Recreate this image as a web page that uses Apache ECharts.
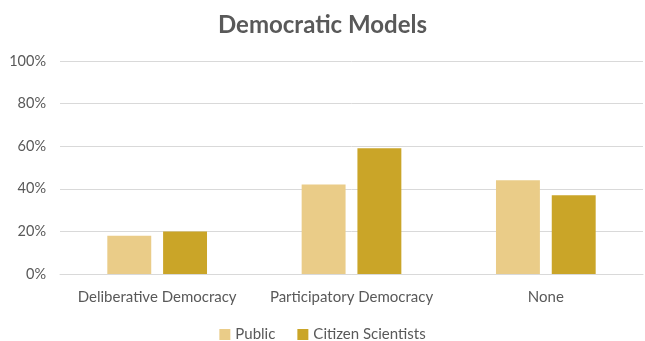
<!DOCTYPE html>
<html>
<head>
<meta charset="utf-8">
<script src="https://cdn.jsdelivr.net/npm/echarts@6/dist/echarts.min.js"></script>
<style>
  html, body { margin: 0; padding: 0; background: #ffffff; }
  #chart { width: 645px; height: 341px; }
</style>
</head>
<body>
<div id="chart"></div>
<script>
const categories = ['Deliberative Democracy', 'Participatory Democracy', 'None'];
const publicValues = [18, 42, 44];
const citizenValues = [20, 59, 37];
const seriesNames = ['Public', 'Citizen Scientists'];
const yTicks = [0, 20, 40, 60, 80, 100];

const font = 'Lato, "Open Sans", "Liberation Sans", sans-serif';
const textColor = '#595959';

const chart = echarts.init(document.getElementById('chart'), null, { renderer: 'canvas' });
chart.setOption({
  animation: false,
  backgroundColor: '#ffffff',
  title: {
    text: 'Democratic Models',
    left: 'center',
    top: 8,
    textStyle: { fontFamily: font, fontSize: 24, fontWeight: 'bold', color: textColor }
  },
  legend: {
    data: seriesNames,
    top: 322,
    left: 'center',
    itemWidth: 11,
    itemHeight: 11,
    itemGap: 22,
    icon: 'rect',
    textStyle: { fontFamily: font, fontSize: 15, color: textColor }
  },
  grid: { left: 60, right: 2, top: 61, bottom: 67, containLabel: false },
  xAxis: {
    type: 'category',
    data: categories,
    axisTick: { show: false },
    axisLine: { show: true, lineStyle: { color: '#D9D9D9', width: 1 } },
    axisLabel: { interval: 0, fontFamily: font, fontSize: 15, color: textColor, margin: 16 }
  },
  yAxis: {
    type: 'value',
    min: yTicks[0],
    max: yTicks[yTicks.length - 1],
    interval: yTicks[1] - yTicks[0],
    axisLine: { show: false },
    axisTick: { show: false },
    splitLine: { lineStyle: { color: '#D9D9D9', width: 1 } },
    axisLabel: { fontFamily: font, fontSize: 14.5, color: textColor, margin: 14, formatter: '{value}%' }
  },
  series: [
    {
      name: seriesNames[0],
      type: 'bar',
      data: publicValues,
      barWidth: '22.6%',
      barGap: '27%',
      itemStyle: { color: '#EACC88' }
    },
    {
      name: seriesNames[1],
      type: 'bar',
      data: citizenValues,
      barWidth: '22.6%',
      barGap: '27%',
      itemStyle: { color: '#CAA528' }
    }
  ]
});
</script>
</body>
</html>
